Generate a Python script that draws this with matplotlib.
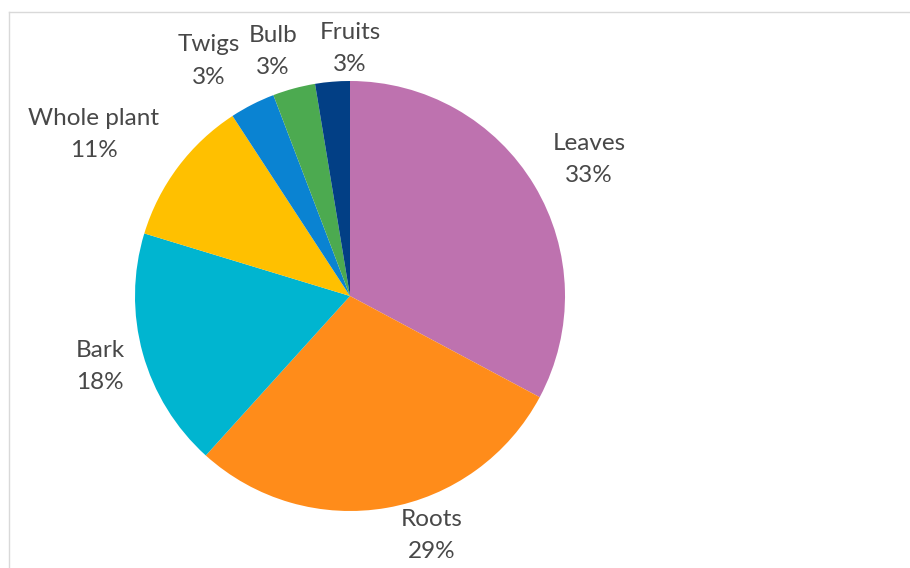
import matplotlib
matplotlib.use('Agg')
import matplotlib.pyplot as plt
from matplotlib.lines import Line2D

# slice shares (percent)
parts = ['Leaves', 'Roots', 'Bark', 'Whole plant', 'Twigs', 'Bulb', 'Fruits']
shares = [32.8, 28.9, 18.0, 11.1, 3.4, 3.2, 2.6]
colors = ['#BE72AF', '#FF8C1A', '#00B5D0', '#FFC000', '#0A83D2', '#4CAA50', '#023F85']

# label centres, in pie radius units
label_xy = [(1.112, 0.633), (0.381, -1.116), (-1.163, -0.330), (-1.191, 0.749),
            (-0.656, 1.093), (-0.358, 1.135), (0.0, 1.149)]

W, H = 910, 568
fig = plt.figure(figsize=(W / 100, H / 100), dpi=100)
cx, cy, r = 350, 296, 215
ax = fig.add_axes([(cx - r) / W, (H - cy - r) / H, 2 * r / W, 2 * r / H])

ax.pie(shares, colors=colors, startangle=90, counterclock=False,
       wedgeprops=dict(linewidth=0), radius=1)
ax.set_xlim(-1, 1)
ax.set_ylim(-1, 1)
ax.set_aspect('equal')
ax.axis('off')

for name, val, (x, y) in zip(parts, shares, label_xy):
    ax.text(x, y, f'{name}\n{round(val):.0f}%', ha='center', va='center',
            fontsize=17.5, color='#484848', family='Lato', linespacing=1.65)

# light frame (only top and left edges show in the crop)
fig.add_artist(Line2D([9 / W, 1], [1 - 12 / H, 1 - 12 / H], color='#D9D9D9', lw=1))
fig.add_artist(Line2D([9 / W, 9 / W], [0, 1 - 12 / H], color='#D9D9D9', lw=1))

fig.savefig('out.png', dpi=100)
